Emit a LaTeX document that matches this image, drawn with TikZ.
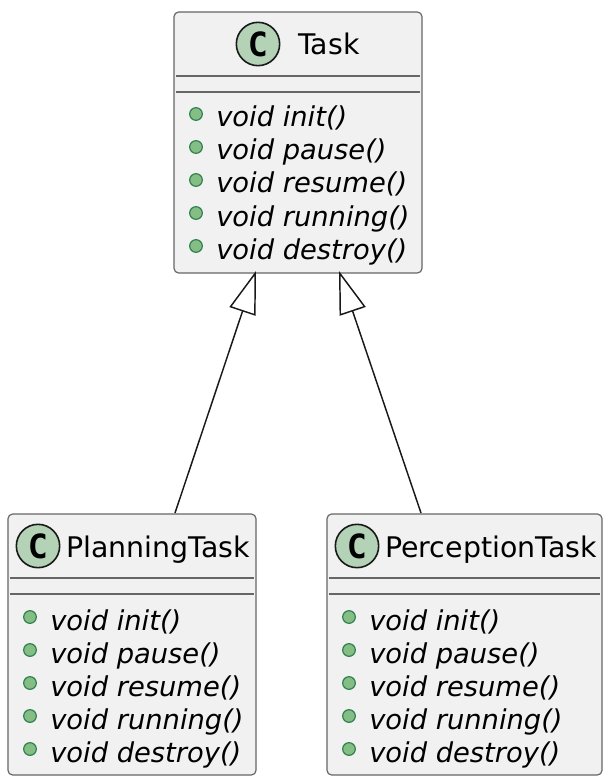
\documentclass[tikz,border=0pt]{standalone}
\usepackage{fontspec}
\setmainfont{DejaVu Sans}
\newfontfamily\markfont{DejaVu Sans Mono}
\usetikzlibrary{arrows.meta}
\definecolor{boxfill}{HTML}{F1F1F1}
\definecolor{boxline}{HTML}{666666}
\definecolor{markfill}{HTML}{B4D2B6}
\definecolor{dotfill}{HTML}{84BE84}
\definecolor{dotline}{HTML}{2F8050}
\tikzset{
  classbox/.style={draw=boxline, fill=boxfill, line width=0.9pt, rounded corners=3.5pt, inner sep=0pt},
  classmark/.style={circle, draw=black!90, fill=markfill, line width=1.2pt, minimum size=32.5pt, inner sep=0pt, font=\markfont\bfseries\fontsize{25}{25}\selectfont},
  classname/.style={anchor=base west, inner sep=0pt, font=\fontsize{21.3}{25}\selectfont},
  memberdot/.style={circle, draw=dotline, fill=dotfill, line width=0.9pt, minimum size=9.5pt, inner sep=0pt},
  membername/.style={anchor=base west, inner sep=0pt, font=\itshape\fontsize{20.5}{25}\selectfont},
  sepline/.style={draw=boxline, line width=0.9pt},
  extends/.style={draw=black!90, line width=1.1pt, -{Triangle[open, length=32pt, width=20.5pt, fill=white]}}
}
\begin{document}
\begin{tikzpicture}[x=0.75pt, y=-0.75pt]
\useasboundingbox (0,0) rectangle (610,784);

% boxes
\node[classbox, minimum width=186pt, minimum height=195.75pt] (task) at (298,142.5) {};
\node[classbox, minimum width=186pt, minimum height=195.75pt] (planning) at (132,644.5) {};
\node[classbox, minimum width=206.25pt, minimum height=195.75pt] (perception) at (464.5,644.5) {};

% separators
\draw[sepline] (176,76) -- (420,76);
\draw[sepline] (176,92) -- (420,92);
\draw[sepline] (10,578) -- (254,578);
\draw[sepline] (10,594) -- (254,594);
\draw[sepline] (329,578) -- (600,578);
\draw[sepline] (329,594) -- (600,594);

% headers
\node[classmark] (taskmark) at (258,44) {C};
\node[classname] (taskname) at (298,55) {Task};
\node[classmark] (planningmark) at (38,546) {C};
\node[classname] (planningname) at (66,557) {PlanningTask};
\node[classmark] (perceptionmark) at (357,546) {C};
\node[classname] (perceptionname) at (385,557) {PerceptionTask};

% members
\foreach \i/\m in {0/init, 1/pause, 2/resume, 3/running, 4/destroy} {
  \node[memberdot] (taskdot\i) at (196,114+33*\i) {};
  \node[membername] (taskrow\i) at (216,127+33*\i) {void \m()};
  \node[memberdot] (planningdot\i) at (30,617+33*\i) {};
  \node[membername] (planningrow\i) at (50,630+33*\i) {void \m()};
  \node[memberdot] (perceptiondot\i) at (349,617+33*\i) {};
  \node[membername] (perceptionrow\i) at (369,630+33*\i) {void \m()};
}

% inheritance
\coordinate (planningtop) at (175,513);
\coordinate (perceptiontop) at (421,513);
\coordinate (tasktipl) at (256,271);
\coordinate (tasktipr) at (339,271);
\draw[extends] (planningtop) -- (tasktipl);
\draw[extends] (perceptiontop) -- (tasktipr);
\end{tikzpicture}
\end{document}
